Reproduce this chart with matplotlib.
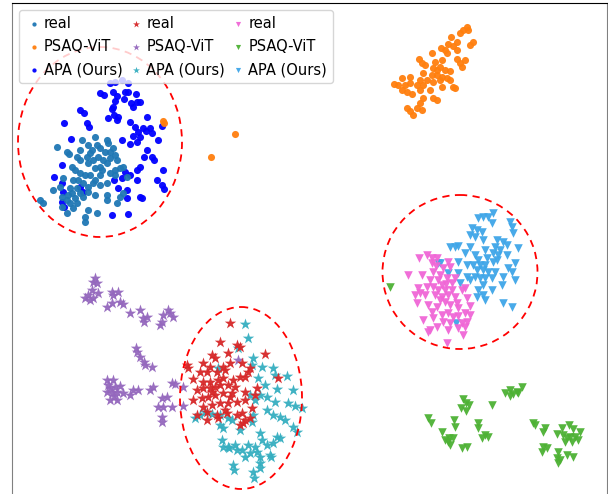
import matplotlib
matplotlib.use("Agg")
import matplotlib.pyplot as plt
from matplotlib.patches import Ellipse
import numpy as np

# t-SNE embedding coordinates (in image-like units)
real_circle = [(40,200),(43,203),(57,147),(67,152),(69,154),(80,150),(82,140),(88,145),(95,137),(97,145),
    (107,140),(108,143),(113,148),(80,160),(87,157),(93,160),(98,157),(103,160),(100,167),(107,163),
    (110,158),(115,155),(117,160),(72,167),(75,170),(80,173),(88,163),(95,168),(100,175),(90,175),
    (85,175),(73,180),(83,183),(93,183),(100,185),(107,183),(110,173),(70,188),(77,188),(72,193),
    (80,193),(88,192),(95,195),(53,190),(62,197),(67,200),(75,198),(83,197),(107,195),(107,200),
    (117,203),(123,193),(120,197),(70,203),(77,203),(62,207),(67,213),(73,208),(88,210),(97,213),
    (85,222),(85,217),(127,177),(123,167),(120,168),(100,148),(105,152),(77,157),(90,153),(110,152),
    (115,170),(115,175),(63,178),(60,187),(92,150),(102,170),(95,180),(88,187),(78,180),(68,195)]
psaq_circle = [(467,27),(463,30),(468,30),(460,33),(451,37),(473,42),(470,45),(457,42),(453,46),(448,44),
    (441,48),(445,50),(432,53),(447,53),(457,50),(419,59),(422,63),(425,65),(435,62),(442,60),
    (457,59),(460,63),(465,60),(462,67),(433,68),(437,70),(440,67),(445,70),(450,71),(423,73),
    (432,75),(437,75),(442,77),(447,78),(410,77),(402,78),(420,80),(427,80),(433,82),(440,80),
    (450,80),(394,84),(398,85),(405,85),(410,83),(417,85),(423,85),(442,87),(453,87),(455,88),
    (402,90),(407,92),(412,94),(420,90),(430,90),(423,98),(433,98),(437,100),(420,103),(417,108),
    (422,110),(407,108),(410,111),(413,115),(235,134),(211,157),(164,123),(163,121)]
apa_circle = [(110,83),(115,82),(122,80),(128,83),(100,93),(104,95),(113,92),(117,96),(125,92),(128,92),
    (136,94),(124,99),(115,101),(131,103),(137,102),(140,102),(133,107),(113,107),(112,109),(80,110),
    (84,113),(114,115),(108,118),(117,120),(118,117),(130,122),(147,117),(64,123),(87,123),(89,127),
    (135,127),(138,132),(143,128),(146,131),(150,128),(152,133),(162,126),(133,136),(140,137),(122,140),
    (130,144),(137,142),(158,140),(71,139),(147,150),(144,157),(152,157),(154,160),(140,167),(137,170),
    (163,170),(125,172),(130,175),(62,165),(54,177),(62,183),(114,180),(122,178),(137,180),(157,180),
    (162,185),(164,189),(118,188),(127,190),(63,192),(127,198),(140,197),(142,198),(62,202),(112,215),
    (128,214),(64,207),(83,192),(80,187)]

real_star = [(230,323),(220,342),(237,345),(240,347),(228,353),(212,355),(215,358),(265,354),(187,365),(203,363),
    (210,367),(223,367),(230,363),(242,363),(250,368),(200,372),(207,372),(217,372),(225,370),(248,372),
    (193,379),(203,382),(210,382),(223,378),(233,380),(240,377),(245,377),(278,378),(197,390),(203,388),
    (210,388),(215,387),(220,385),(228,385),(235,387),(257,388),(193,400),(202,398),(208,397),(215,395),
    (223,393),(232,393),(245,392),(255,395),(203,407),(212,405),(220,403),(228,403),(237,402),(245,400),
    (252,408),(197,415),(207,412),(217,415),(227,413),(237,415),(242,413),(245,420),(207,420),(218,418),
    (240,425),(243,423),(250,418),(188,368),(218,380),(230,397),(225,410),(212,392)]
psaq_star = [(95,278),(93,282),(97,283),(92,290),(85,298),(90,300),(93,298),(98,293),(112,292),(113,295),
    (118,292),(107,307),(112,303),(120,302),(123,304),(130,313),(140,310),(143,318),(147,317),(144,322),
    (168,310),(163,315),(173,317),(162,322),(160,325),(136,348),(137,352),(140,357),(144,362),(145,365),
    (152,367),(107,380),(113,380),(108,385),(115,387),(120,386),(107,392),(112,393),(117,392),(110,400),
    (117,400),(123,393),(130,395),(133,390),(138,390),(150,390),(153,387),(172,383),(175,384),(183,387),
    (162,398),(167,397),(158,407),(163,407),(172,407),(162,417),(162,422),(183,406),(238,360),(170,313),
    (110,388),(114,396),(88,295)]
apa_star = [(245,324),(248,338),(238,348),(253,358),(252,365),(262,367),(273,368),(275,375),(287,376),(218,368),
    (258,378),(265,385),(277,389),(293,390),(250,395),(260,395),(267,397),(275,402),(288,403),(295,406),
    (302,408),(255,400),(267,410),(273,415),(280,417),(285,420),(253,415),(252,422),(195,418),(200,415),
    (220,415),(228,418),(232,420),(220,425),(223,428),(240,430),(293,427),(297,432),(222,440),(228,447),
    (237,450),(242,450),(260,433),(262,440),(248,445),(255,447),(267,445),(273,443),(277,437),(280,438),
    (250,453),(257,452),(245,457),(260,457),(270,455),(260,463),(233,465),(253,472),(235,445),(223,447),
    (234,470),(254,478),(260,468),(271,457),(229,448),(205,412),(212,414)]

real_tri = [(427,255),(432,258),(437,258),(419,258),(432,263),(448,262),(450,267),(443,268),(433,272),(422,275),
    (408,275),(440,275),(430,280),(438,280),(447,278),(455,278),(427,287),(433,287),(442,285),(452,283),
    (418,288),(438,290),(445,290),(452,290),(462,290),(465,288),(415,295),(420,293),(425,295),(435,295),
    (442,297),(448,295),(455,297),(467,298),(417,303),(428,305),(437,307),(445,302),(450,305),(457,303),
    (458,308),(470,306),(432,312),(442,315),(448,313),(453,317),(458,316),(465,313),(470,315),(423,320),
    (433,318),(443,322),(450,323),(462,323),(467,322),(430,330),(437,327),(448,330),(458,328),(465,327),
    (463,335),(447,343),(428,332),(440,300),(446,284),(436,266)]
psaq_tri = [(390,287),(428,418),(431,423),(442,432),(445,440),(449,438),(453,438),(450,445),(462,448),(467,447),
    (454,420),(455,427),(463,399),(466,403),(469,405),(461,408),(492,405),(478,423),(478,428),(485,435),
    (482,438),(488,437),(505,393),(510,390),(510,396),(517,392),(522,387),(518,393),(533,423),(535,425),
    (545,428),(543,432),(557,434),(562,428),(569,425),(573,429),(580,432),(563,435),(567,438),(570,437),
    (575,437),(565,442),(572,442),(578,440),(543,447),(547,448),(542,452),(558,452),(557,458),(560,460),
    (558,463),(567,455),(573,457),(448,442),(513,394),(466,411)]
apa_tri = [(493,213),(478,218),(483,217),(488,217),(492,223),(510,222),(512,227),(513,233),(472,228),(477,230),
    (482,232),(470,235),(475,237),(483,240),(497,240),(503,242),(450,247),(455,247),(458,246),(470,247),
    (485,250),(495,247),(500,250),(507,245),(518,248),(465,253),(475,255),(493,253),(498,255),(507,255),
    (478,260),(487,258),(493,262),(497,260),(458,262),(467,265),(473,265),(480,265),(485,265),(515,263),
    (508,268),(512,272),(477,270),(483,270),(488,272),(495,272),(448,273),(458,273),(467,277),(475,277),
    (480,278),(485,278),(492,278),(503,277),(515,280),(470,280),(483,285),(502,285),(460,283),(478,290),
    (492,290),(477,297),(483,295),(485,300),(503,303),(512,307),(440,263),(456,323),(438,263)]

labels = ["real", "PSAQ-ViT", "APA (Ours)"]
circle_colors = ["#1f77b4", "#ff7f0e", "#0000ff"]
star_colors = ["#d62728", "#9467bd", "#35aec0"]
tri_colors = ["#f066d6", "#4db134", "#3fa6e8"]

# dashed highlight ellipses: (center x, center y, width, height)
ellipses = [(100, 142, 164, 190), (241, 398, 122, 182), (460, 272, 155, 154)]

fig = plt.figure(figsize=(6.08, 4.94), dpi=100)
ax = fig.add_axes([12/608, -0.05, 595/608, 1 - 3/494 + 0.05])
ax.set_xlim(12, 607)
ax.set_ylim(494 * 1.05, 3)

groups = [(real_circle, "o", circle_colors[0], labels[0], 26),
          (psaq_circle, "o", circle_colors[1], labels[1], 26),
          (apa_circle, "o", circle_colors[2], labels[2], 26),
          (real_star, "*", star_colors[0], labels[0], 75),
          (psaq_star, "*", star_colors[1], labels[1], 75),
          (apa_star, "*", star_colors[2], labels[2], 75),
          (real_tri, "v", tri_colors[0], labels[0], 38),
          (psaq_tri, "v", tri_colors[1], labels[1], 38),
          (apa_tri, "v", tri_colors[2], labels[2], 38)]

order = [2, 1, 0, 5, 4, 3, 8, 7, 6]
handles = {}
for i in order:
    pts, m, c, l, s = groups[i]
    a = np.array(pts, dtype=float)
    handles[i] = ax.scatter(a[:, 0], a[:, 1], marker=m, c=c, s=s, label=l,
                            linewidths=0, alpha=0.95)

for (cx, cy, w, h) in ellipses:
    ax.add_patch(Ellipse((cx, cy), w, h, fill=False, edgecolor="red",
                         linestyle=(0, (4, 3)), linewidth=1.3))

ax.set_xticks([])
ax.set_yticks([])
ax.spines["top"].set_color("black")
ax.spines["left"].set_color("#808080")
ax.spines["right"].set_color("#808080")
ax.spines["bottom"].set_visible(False)

leg = ax.legend([handles[i] for i in range(9)], [groups[i][3] for i in range(9)],
                ncol=3, loc="upper left", fontsize=10.5, handletextpad=0.1,
                columnspacing=0.3, labelspacing=0.55, markerscale=0.6,
                borderaxespad=0.5, handlelength=1.2)

fig.savefig("out.png", dpi=100)
